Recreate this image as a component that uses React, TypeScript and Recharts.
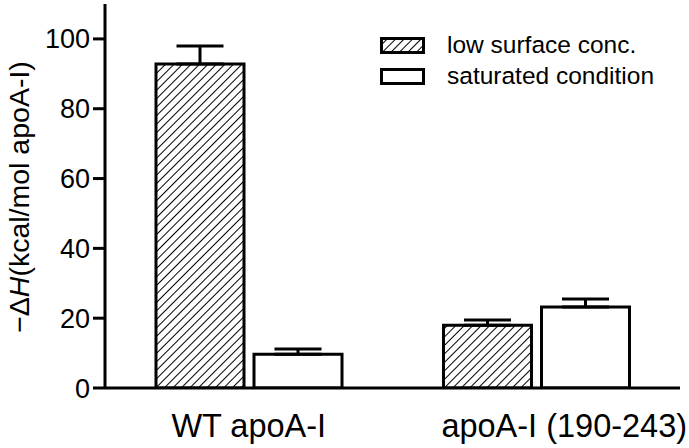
import React from "react";
import { BarChart, Bar, XAxis, YAxis, ErrorBar } from "recharts";

const categories = ["WT apoA-I", "apoA-I (190-243)"];
const categoryLabelShift = [0, 28];
const lowSurface = [92.8, 18.0];
const lowSurfaceErr = [5.2, 1.5];
const saturated = [9.7, 23.2];
const saturatedErr = [1.5, 2.3];
const yTicks = [0, 20, 40, 60, 80, 100];
const seriesNames = ["low surface conc.", "saturated condition"];

const data = categories.map((c, i) => ({
  name: c,
  low: lowSurface[i],
  lowErr: [0, lowSurfaceErr[i]],
  sat: saturated[i],
  satErr: [0, saturatedErr[i]],
}));

const FONT = "'Liberation Sans', Arial, Helvetica, sans-serif";

const LegendBox = () => (
  <div
    style={{
      position: "absolute",
      left: 380,
      top: 30,
      fontFamily: FONT,
      fontSize: 24.5,
      color: "#000",
      lineHeight: 1,
    }}
  >
    {seriesNames.map((n, i) => (
      <div key={n} style={{ display: "flex", alignItems: "center", height: 31 }}>
        <svg width={46} height={18} style={{ marginRight: 21, display: "block" }}>
          <rect
            x={1.5}
            y={1.5}
            width={42}
            height={14}
            fill={i === 0 ? "url(#hatch)" : "#fff"}
            stroke="#000"
            strokeWidth={3}
          />
        </svg>
        <span>{n}</span>
      </div>
    ))}
  </div>
);

const XTick = (props: any) => {
  const { x, y, payload, index } = props;
  return (
    <text
      x={x}
      y={y}
      dx={categoryLabelShift[index] || 0}
      dy="0.71em"
      textAnchor="middle"
      fontFamily={FONT}
      fontSize={32.5}
      fill="#000"
    >
      {payload.value}
    </text>
  );
};

const YLabel = () => (
  <text
    x={19}
    y={197}
    transform="rotate(-90 19 197)"
    textAnchor="middle"
    dominantBaseline="central"
    fontFamily={FONT}
    fontSize={28.5}
    fill="#000"
  >
    −Δ<tspan fontStyle="italic">H</tspan>(kcal/mol apoA-I)
  </text>
);

export default function App() {
  return (
    <div style={{ position: "absolute", left: 0, top: 0, width: 689, height: 448, background: "#fff", overflow: "hidden" }}>
      <svg width={0} height={0} style={{ position: "absolute" }}>
        <defs>
          <pattern id="hatch" patternUnits="userSpaceOnUse" width={6} height={6} patternTransform="rotate(45)">
            <rect width={6} height={6} fill="#fff" />
            <line x1={0} y1={0} x2={0} y2={6} stroke="#000" strokeWidth={2} />
          </pattern>
        </defs>
      </svg>
      <BarChart
        width={689}
        height={448}
        data={data}
        margin={{ top: 4, right: 9, bottom: 0, left: 0 }}
        barGap={10}
        barSize={88}
        style={{ overflow: "visible" }}
      >
        <XAxis
          dataKey="name"
          height={60}
          tickLine={false}
          axisLine={{ stroke: "#000", strokeWidth: 3 }}
          tick={<XTick />}
          tickMargin={20}
          interval={0}
        />
        <XAxis xAxisId="top" orientation="top" height={0} tick={false} tickLine={false} axisLine={{ stroke: "#000", strokeWidth: 3 }} />
        <YAxis
          domain={[0, 110]}
          ticks={yTicks}
          width={105}
          tickSize={12}
          tickMargin={3}
          axisLine={{ stroke: "#000", strokeWidth: 3 }}
          tickLine={{ stroke: "#000", strokeWidth: 3 }}
          tick={{ fill: "#000", fontSize: 27, fontFamily: FONT }}
          allowDataOverflow
        />
        <YAxis yAxisId="right" orientation="right" width={0} domain={[0, 110]} tick={false} tickLine={false} axisLine={{ stroke: "#000", strokeWidth: 3 }} />
        <Bar dataKey="low" fill="url(#hatch)" stroke="#000" strokeWidth={3} isAnimationActive={false}>
          <ErrorBar dataKey="lowErr" direction="y" width={23.5} stroke="#000" strokeWidth={3} />
        </Bar>
        <Bar dataKey="sat" fill="#fff" stroke="#000" strokeWidth={3} isAnimationActive={false}>
          <ErrorBar dataKey="satErr" direction="y" width={23.5} stroke="#000" strokeWidth={3} />
        </Bar>
        <YLabel />
      </BarChart>
      <LegendBox />
    </div>
  );
}
